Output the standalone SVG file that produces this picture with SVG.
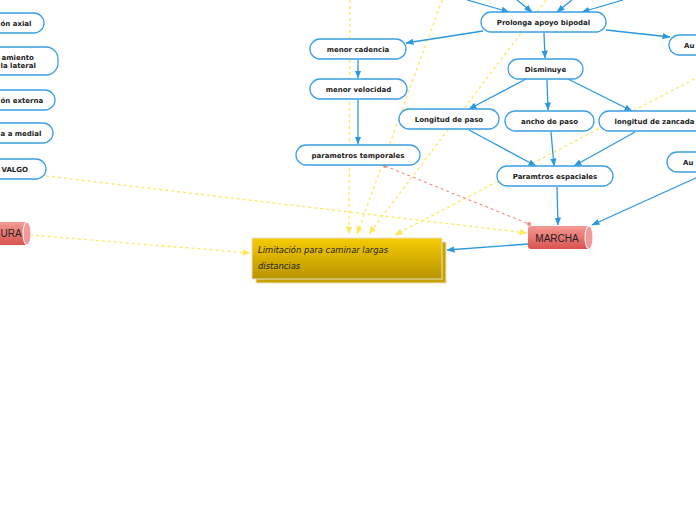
<svg xmlns="http://www.w3.org/2000/svg" width="696" height="520" viewBox="0 0 696 520">
<style>
.n{fill:#fff;stroke:#3a9fe2;stroke-width:1.3}
.t{font-family:"DejaVu Sans",Verdana,sans-serif;font-weight:bold;font-size:7px;fill:#222;text-anchor:middle}
.ts{font-family:"DejaVu Sans",Verdana,sans-serif;font-weight:bold;font-size:7px;fill:#222;text-anchor:start}
.c{fill:none;stroke:#2b98df;stroke-width:1.3;marker-end:url(#ab)}
.y{fill:none;stroke:#ffe75e;stroke-width:1.3;stroke-dasharray:3,3;marker-end:url(#ay)}
.r{fill:none;stroke:#f28a80;stroke-width:1.1;stroke-dasharray:3,3}
.cyl{font-family:"Liberation Sans",Arial,sans-serif;font-size:10px;fill:#222}
</style>
<defs>
<marker id="ab" markerUnits="userSpaceOnUse" markerWidth="8" markerHeight="8" viewBox="0 0 8 8" refX="7.5" refY="4" orient="auto"><path d="M0,0.8 L8,4 L0,7.2 Z" fill="#2b98df"/></marker>
<marker id="ay" markerUnits="userSpaceOnUse" markerWidth="8" markerHeight="8" viewBox="0 0 8 8" refX="7.5" refY="4" orient="auto"><path d="M0,0.8 L8,4 L0,7.2 Z" fill="#ffe75e"/></marker>
<linearGradient id="gy" x1="0" y1="0" x2="0" y2="1"><stop offset="0" stop-color="#f6cb05"/><stop offset="1" stop-color="#b89400"/></linearGradient>
<linearGradient id="gr" x1="0" y1="0" x2="0" y2="1"><stop offset="0" stop-color="#f49a94"/><stop offset="1" stop-color="#d9534f"/></linearGradient>
</defs>

<g id="connectors">
<path class="y" d="M350,0 L349,234"/>
<path class="y" d="M442,0 L357,234"/>
<path class="y" d="M546,0 L369,234"/>
<path class="y" d="M700,76 L395,235"/>
<path class="y" d="M46,176 L527,233"/>
<path class="y" d="M30,235 L250,253"/>
<path class="r" d="M385,166 L529,224"/>
<circle cx="385" cy="166" r="2" fill="#f28a80"/>
<circle cx="529" cy="224" r="2" fill="#f28a80"/>
<path class="c" d="M467,0 L509,12"/>
<path class="c" d="M517,0 L532,12"/>
<path class="c" d="M572,0 L557,12"/>
<path class="c" d="M623,0 L582,12"/>
<path class="c" d="M483,31 L406,43"/>
<path class="c" d="M606,30 L670,37"/>
<path class="c" d="M544,33 L545,58"/>
<path class="c" d="M358,60 L358,78"/>
<path class="c" d="M358,100 L358,144"/>
<path class="c" d="M526,79 L469,109"/>
<path class="c" d="M547,80 L548,110"/>
<path class="c" d="M568,79 L632,111"/>
<path class="c" d="M469,130 L536,166"/>
<path class="c" d="M551,132 L554,166"/>
<path class="c" d="M635,132 L574,166"/>
<path class="c" d="M557,187 L558,225"/>
<path class="c" d="M698,177 L592,225"/>
<path class="c" d="M528,244 L447,250"/>
</g>

<g id="n1"><rect class="n" x="-20" y="13" width="64" height="20" rx="10"/><text class="ts" x="0.5" y="25.5">ón axial</text></g>
<g id="n2"><rect class="n" x="-20" y="47" width="78" height="28" rx="12"/><text class="ts" x="1.5" y="60">amiento</text><text class="ts" x="0.5" y="68">la lateral</text></g>
<g id="n3"><rect class="n" x="-20" y="90" width="75" height="20" rx="10"/><text class="ts" x="0.5" y="102.5">ón externa</text></g>
<g id="n4"><rect class="n" x="-20" y="123" width="73" height="20" rx="10"/><text class="ts" x="0.5" y="135.5">a a medial</text></g>
<g id="n5"><rect class="n" x="-20" y="159" width="66" height="20" rx="10"/><text class="ts" x="1.5" y="171.5">VALGO</text></g>
<g id="n6"><rect x="-20" y="222" width="48" height="23" rx="3" fill="url(#gr)"/><ellipse cx="27" cy="233.5" rx="4" ry="11.5" fill="#f29a9a" stroke="#fff" stroke-width="1"/><text class="cyl" x="0.5" y="237">URA</text></g>

<g id="prolonga"><rect class="n" x="481" y="12" width="125" height="20" rx="10"/><text class="t" x="543.5" y="24.5">Prolonga apoyo bipodal</text></g>
<g id="cadencia"><rect class="n" x="310" y="39" width="96" height="20" rx="10"/><text class="t" x="358" y="51.5">menor cadencia</text></g>
<g id="velocidad"><rect class="n" x="310" y="79" width="97" height="20" rx="10"/><text class="t" x="358.5" y="91.5">menor velocidad</text></g>
<g id="temporales"><rect class="n" x="296" y="145" width="124" height="20" rx="10"/><text class="t" x="358" y="157.5">parametros temporales</text></g>
<g id="disminuye"><rect class="n" x="508" y="59" width="75" height="20" rx="10"/><text class="t" x="545.5" y="71.5">Disminuye</text></g>
<g id="au1"><rect class="n" x="669" y="35" width="60" height="20" rx="10"/><text class="ts" x="684" y="47.5">Au</text></g>
<g id="longpaso"><rect class="n" x="399" y="109" width="100" height="20" rx="10"/><text class="t" x="449" y="121.5">Longitud de paso</text></g>
<g id="ancho"><rect class="n" x="505" y="111" width="89" height="20" rx="10"/><text class="t" x="549.5" y="123.5">ancho de paso</text></g>
<g id="zancada"><rect class="n" x="599" y="111" width="110" height="20" rx="10"/><text class="t" x="654.5" y="123.5">longitud de zancada</text></g>
<g id="espaciales"><rect class="n" x="497" y="166" width="116" height="20" rx="10"/><text class="t" x="555" y="178.5">Paramtros espaciales</text></g>
<g id="au2"><rect class="n" x="667" y="152" width="60" height="20" rx="10"/><text class="ts" x="683" y="164.5">Au</text></g>

<g id="marcha"><rect x="528" y="226" width="62" height="23" rx="3" fill="url(#gr)"/><ellipse cx="589" cy="237.5" rx="4" ry="11.5" fill="#f29a9a" stroke="#fff" stroke-width="1"/><text class="cyl" x="557" y="241.5" text-anchor="middle">MARCHA</text></g>

<g id="limitacion">
<rect x="256" y="242" width="190" height="41" fill="#c9a200" stroke="#e8e0c0" stroke-width="1"/>
<rect x="252" y="238" width="190" height="41" fill="url(#gy)" stroke="#e6e0cc" stroke-width="1"/>
<text x="258" y="253" font-family="'DejaVu Sans',sans-serif" font-style="italic" font-size="8.4px" fill="#222">Limitación para caminar largas</text>
<text x="258" y="269" font-family="'DejaVu Sans',sans-serif" font-style="italic" font-size="8.4px" fill="#222">distancias</text>
</g>
</svg>
